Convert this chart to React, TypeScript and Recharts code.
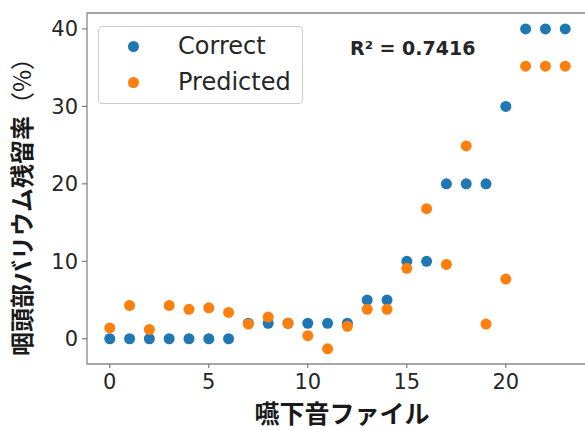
import { ScatterChart, Scatter, XAxis, YAxis, ReferenceArea, Legend } from 'recharts'

const fileIndex = [0, 1, 2, 3, 4, 5, 6, 7, 8, 9, 10, 11, 12, 13, 14, 15, 16, 17, 18, 19, 20, 21, 22, 23]
const correct = [0, 0, 0, 0, 0, 0, 0, 2, 2, 2, 2, 2, 2, 5, 5, 10, 10, 20, 20, 20, 30, 40, 40, 40]
const predicted = [1.4, 4.3, 1.2, 4.3, 3.8, 4.0, 3.4, 1.9, 2.8, 2.0, 0.4, -1.3, 1.6, 3.8, 3.8, 9.1, 16.8, 9.6, 24.9, 1.9, 7.7, 35.2, 35.2, 35.2]
const xTicks = [0, 5, 10, 15, 20]
const yTicks = [0, 10, 20, 30, 40]

const X_DOMAIN: [number, number] = [-1.15, 24.15]
const Y_DOMAIN: [number, number] = [-3.26, 42.06]

const BLUE = '#1f77b4'
const ORANGE = '#ff7f0e'
const TICK_FONT = { fill: '#262626', fontSize: 21, fontFamily: 'DejaVu Sans' }
const CJK = '"Noto Sans CJK JP", sans-serif'

const correctData = fileIndex.map((x, i) => ({ x, y: correct[i] }))
const predictedData = fileIndex.map((x, i) => ({ x, y: predicted[i] }))

const Dot = (color: string) => (props: any) => (
  <circle cx={props.cx} cy={props.cy} r={5.5} fill={color} />
)

const YLabel = () => {
  const cx = 20
  const cy = 201
  return (
    <text
      x={cx}
      y={cy}
      transform={`rotate(-90, ${cx}, ${cy})`}
      textAnchor="middle"
      dominantBaseline="central"
      fontFamily={CJK}
      fontWeight={700}
      fontSize={24}
      fill="#1a1a1a"
    >
      咽頭部バリウム残留率<tspan fontWeight={400}>（%）</tspan>
    </text>
  )
}

const XLabel = () => (
  <text
    x={342}
    y={412}
    textAnchor="middle"
    dominantBaseline="central"
    fontFamily={CJK}
    fontWeight={700}
    fontSize={25}
    fill="#1a1a1a"
  >
    嚥下音ファイル
  </text>
)

const LegendBox = () => (
  <div
    style={{
      width: 203,
      height: 76,
      border: '1px solid #cccccc',
      borderRadius: 4,
      background: 'rgba(255,255,255,0.85)',
      fontFamily: 'DejaVu Sans',
      fontSize: 24,
      color: '#262626',
      position: 'relative',
    }}
  >
    {[
      { name: 'Correct', color: BLUE, top: 19 },
      { name: 'Predicted', color: ORANGE, top: 55 },
    ].map((d) => (
      <div key={d.name}>
        <span
          style={{
            position: 'absolute',
            left: 29,
            top: d.top - 5.5,
            width: 11,
            height: 11,
            borderRadius: '50%',
            background: d.color,
          }}
        />
        <span style={{ position: 'absolute', left: 79, top: d.top - 15, lineHeight: '30px' }}>
          {d.name}
        </span>
      </div>
    ))}
  </div>
)

export default function App() {
  return (
    <div style={{ position: 'absolute', left: 0, top: 0, width: 585, height: 430, overflow: 'hidden', background: '#fff' }}>
      <ScatterChart width={590} height={430} margin={{ top: 13, right: 2, bottom: 0, left: 0 }}>
        <XAxis
          type="number"
          dataKey="x"
          domain={X_DOMAIN}
          ticks={xTicks}
          allowDataOverflow
          axisLine={false}
          tickLine={{ stroke: '#666' }}
          tickSize={4}
          tickMargin={6}
          height={66}
          tick={TICK_FONT}
          label={<XLabel />}
        />
        <YAxis
          type="number"
          dataKey="y"
          domain={Y_DOMAIN}
          ticks={yTicks}
          allowDataOverflow
          axisLine={false}
          tickLine={{ stroke: '#666' }}
          tickSize={5}
          tickMargin={4}
          width={87}
          tick={TICK_FONT}
          label={<YLabel />}
        />
        <ReferenceArea
          x1={X_DOMAIN[0]}
          x2={X_DOMAIN[1]}
          y1={Y_DOMAIN[0]}
          y2={Y_DOMAIN[1]}
          fill="none"
          stroke="#888"
          strokeWidth={1.3}
          ifOverflow="visible"
        />
        <Scatter name="Correct" data={correctData} fill={BLUE} shape={Dot(BLUE)} isAnimationActive={false} />
        <Scatter name="Predicted" data={predictedData} fill={ORANGE} shape={Dot(ORANGE)} isAnimationActive={false} />
        <Legend
          layout="vertical"
          align="center"
          verticalAlign="middle"
          content={<LegendBox />}
          wrapperStyle={{ left: 98, top: 26, width: 205, height: 78 }}
        />
      </ScatterChart>
      <div
        style={{
          position: 'absolute',
          left: 350,
          top: 37,
          fontFamily: 'DejaVu Sans',
          fontWeight: 700,
          fontSize: 19,
          color: '#262626',
          whiteSpace: 'nowrap',
        }}
      >
        R² = 0.7416
      </div>
    </div>
  )
}
